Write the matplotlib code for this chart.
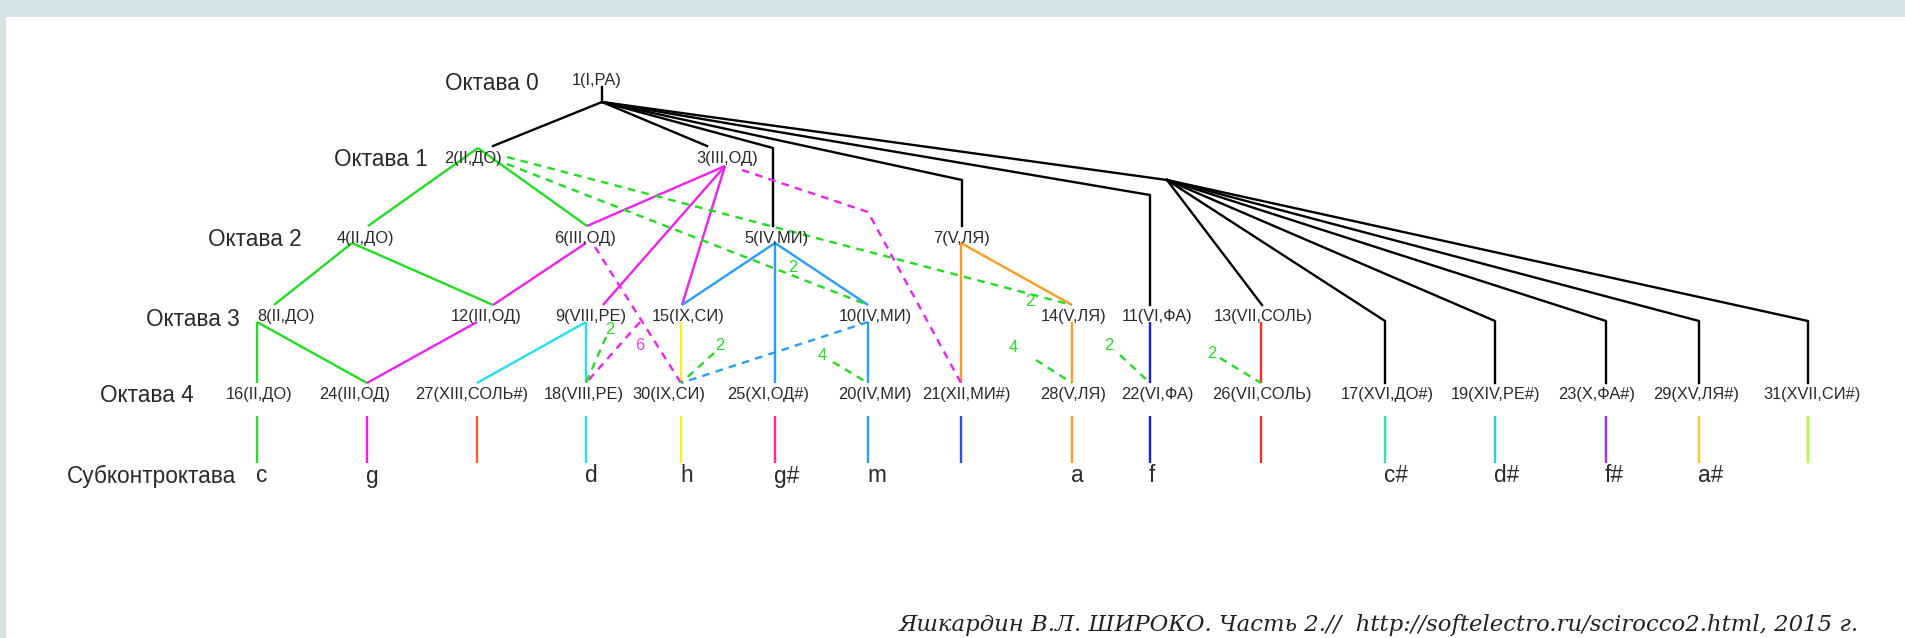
import matplotlib
matplotlib.use('Agg')
import matplotlib.pyplot as plt
from matplotlib.patches import Rectangle

plt.rcParams['font.family'] = ['Liberation Sans', 'DejaVu Sans']
plt.rcParams['lines.scale_dashes'] = False

# подписи уровней
octave_names = ['Октава 0', 'Октава 1', 'Октава 2', 'Октава 3', 'Октава 4', 'Субконтроктава']
octave_x = [492, 381, 255, 193, 147, 151]
octave_y = [83, 160, 239, 320, 396, 476]
level_y = [80, 158, 238, 317, 395]

# узлы
node_ids = [1, 2, 3, 4, 6, 5, 7, 8, 12, 9, 15, 10, 14, 11, 13,
            16, 24, 27, 18, 30, 25, 20, 21, 28, 22, 26, 17, 19, 23, 29, 31]
node_text = ['1(I,РА)', '2(II,ДО)', '3(III,ОД)', '4(II,ДО)', '6(III,ОД)', '5(IV,МИ)', '7(V,ЛЯ)',
             '8(II,ДО)', '12(III,ОД)', '9(VIII,РЕ)', '15(IX,СИ)', '10(IV,МИ)', '14(V,ЛЯ)',
             '11(VI,ФА)', '13(VII,СОЛЬ)',
             '16(II,ДО)', '24(III,ОД)', '27(XIII,СОЛЬ#)', '18(VIII,РЕ)', '30(IX,СИ)',
             '25(XI,ОД#)', '20(IV,МИ)', '21(XII,МИ#)', '28(V,ЛЯ)', '22(VI,ФА)',
             '26(VII,СОЛЬ)', '17(XVI,ДО#)', '19(XIV,РЕ#)', '23(X,ФА#)', '29(XV,ЛЯ#)',
             '31(XVII,СИ#)']
node_level = [0, 1, 1, 2, 2, 2, 2, 3, 3, 3, 3, 3, 3, 3, 3,
              4, 4, 4, 4, 4, 4, 4, 4, 4, 4, 4, 4, 4, 4, 4, 4]
node_x = [597, 473, 727, 365, 585, 776, 962, 286, 486, 591, 688, 875, 1074, 1157, 1263,
          259, 355, 472, 584, 669, 768, 875, 966, 1073, 1157, 1262, 1387, 1496, 1597, 1696, 1812]
node_in_x = [602, 493, 707, 368, 587, 773, 962, 274, 493, 603, 682, 868, 1072, 1150, 1262,
             257, 367, 477, 586, 681, 775, 868, 961, 1072, 1150, 1261, 1385, 1495, 1606, 1699, 1808]
node_out_x = [602, 478, 725, 352, 586, 775, 961, 257, 477, 586, 681, 868, 1072, 1150, 1261,
              257, 367, 477, 586, 681, 775, 868, 961, 1072, 1150, 1261, 1385, 1495, 1606, 1699, 1808]

# субконтроктава
sub_letters = ['c', 'g', '', 'd', 'h', 'g#', 'm', '', 'a', 'f', '', 'c#', 'd#', 'f#', 'a#', '']
sub_colors = ['#22e022', '#f020f0', '#ff5a2a', '#22e0ee', '#ffee22', '#ff2a90', '#2a9cff', '#2a4cff',
              '#ff9a22', '#1a1aff', '#ff2a2a', '#2ae8a0', '#2ac4ff', '#a02aff', '#ffc82a', '#aaff2a']

# сплошные связи (откуда, куда, цвет)
solid_edges = [
    (2, 4, '#22dd22'), (2, 6, '#22dd22'), (4, 8, '#22dd22'), (4, 12, '#22dd22'),
    (8, 16, '#22dd22'), (8, 24, '#22dd22'),
    (3, 6, '#f020f0'), (3, 9, '#f020f0'), (3, 15, '#f020f0'), (6, 12, '#f020f0'), (12, 24, '#f020f0'),
    (5, 15, '#2a9cff'), (5, 10, '#2a9cff'), (5, 25, '#2a9cff'), (10, 20, '#2a9cff'),
    (9, 27, '#22e0ee'), (9, 18, '#22e0ee'),
    (15, 30, '#ffee22'),
    (7, 21, '#ff9a22'), (7, 14, '#ff9a22'), (14, 28, '#ff9a22'),
    (11, 22, '#1a1aff'),
    (13, 26, '#ff2a2a'),
]

# чёрные связи от корня; через второй узел J1; изломы
black_direct = [2, 3, 5, 7, 11]
black_via_j1 = [13, 17, 19, 23, 29, 31]
black_corner_y = {5: 148, 7: 180, 11: 195, 17: 321, 19: 321, 23: 321, 29: 321, 31: 321}
root_stem = (87, 102)
j1 = (1167, 180)

# пунктирные связи: цвет, точки начала/излома, узел назначения
dashed_paths = [
    ('#22dd22', [(507, 157)], 14),
    ('#22dd22', [(507, 164)], 10),
    ('#f020f0', [(742, 170), (868, 212)], 21),
    ('#f020f0', [(595, 247)], 30),
    ('#f020f0', [(640, 322)], 18),
    ('#2a9cff', [(868, 322)], 30),
    ('#22dd22', [(606, 337)], 18),
    ('#22dd22', [(714, 353)], 30),
    ('#22dd22', [(833, 362)], 20),
    ('#22dd22', [(1036, 360)], 28),
    ('#22dd22', [(1120, 355)], 22),
    ('#22dd22', [(1220, 358)], 26),
]
num_labels = [('2', 793, 267, '#22dd22'), ('2', 1030, 301, '#22dd22'), ('2', 610, 329, '#22dd22'),
              ('6', 640, 346, '#f040f0'), ('2', 720, 345, '#22dd22'), ('4', 822, 355, '#22dd22'),
              ('4', 1013, 347, '#22dd22'), ('2', 1109, 346, '#22dd22'), ('2', 1212, 353, '#22dd22')]

citation = 'Яшкардин В.Л. ШИРОКО. Часть 2.//  http://softelectro.ru/scirocco2.html, 2015 г.'

# --- построение ---
nodes = {}
for i, n in enumerate(node_ids):
    lv = node_level[i]
    out_y = level_y[lv] + 5
    if n == 2:
        out_y = 148
    if n == 3:
        out_y = 166
    if n == 1:
        out_y = root_stem[1]
    nodes[n] = {'text': node_text[i], 'x': node_x[i], 'y': level_y[lv],
                'in': (node_in_x[i], level_y[lv] - 12), 'out': (node_out_x[i], out_y)}

fig = plt.figure(figsize=(19.05, 6.38), dpi=100, facecolor='#d5e3e5')
ax = fig.add_axes([0, 0, 1, 1])
ax.set_xlim(0, 1905)
ax.set_ylim(638, 0)
ax.axis('off')
ax.add_patch(Rectangle((6, 17), 1905, 640, facecolor='white', edgecolor='none', zorder=0))

lw = 1.7
j0 = nodes[1]['out']
ax.plot([j0[0], j0[0]], list(root_stem), color='black', lw=lw)

for n in black_direct:
    p = nodes[n]['in']
    xs, ys = [j0[0]], [j0[1]]
    if n in black_corner_y:
        xs.append(p[0]); ys.append(black_corner_y[n])
    xs.append(p[0]); ys.append(p[1])
    ax.plot(xs, ys, color='black', lw=lw)

ax.plot([j0[0], j1[0]], [j0[1], j1[1]], color='black', lw=lw)
for n in black_via_j1:
    p = nodes[n]['in']
    xs, ys = [j1[0]], [j1[1]]
    if n in black_corner_y:
        xs.append(p[0]); ys.append(black_corner_y[n])
    xs.append(p[0]); ys.append(p[1])
    ax.plot(xs, ys, color='black', lw=lw)

for a, b, c in solid_edges:
    pa, pb = nodes[a]['out'], nodes[b]['in']
    ax.plot([pa[0], pb[0]], [pa[1], pb[1]], color=c, lw=lw, solid_capstyle='butt')

for c, pts, end in dashed_paths:
    pe = nodes[end]['in']
    xs = [p[0] for p in pts] + [pe[0]]
    ys = [p[1] for p in pts] + [pe[1]]
    ax.plot(xs, ys, color=c, lw=lw, dashes=(5.5, 4.5))

for t, x, y, c in num_labels:
    ax.text(x, y, t, color=c, fontsize=12, ha='center', va='center')

for n, d in nodes.items():
    ax.text(d['x'], d['y'], d['text'], fontsize=11.8, color='#2a2a2a', ha='center', va='center')

for name, x, y in zip(octave_names, octave_x, octave_y):
    ax.text(x, y, name, fontsize=16.3, color='#2a2a2a', ha='center', va='center')

lvl4 = [n for i, n in enumerate(node_ids) if node_level[i] == 4]
for n, letter, c in zip(lvl4, sub_letters, sub_colors):
    x = nodes[n]['in'][0]
    ax.plot([x, x], [416, 463], color=c, lw=lw, solid_capstyle='butt')
    if letter:
        ax.text(x - 1, octave_y[5], letter, fontsize=16.3, color='#2a2a2a', ha='left', va='center')

ax.text(1859, 625, citation, fontsize=16.4, family='DejaVu Serif', style='italic',
        color='#222222', ha='right', va='center')

fig.savefig('out.png', dpi=100, facecolor=fig.get_facecolor())
